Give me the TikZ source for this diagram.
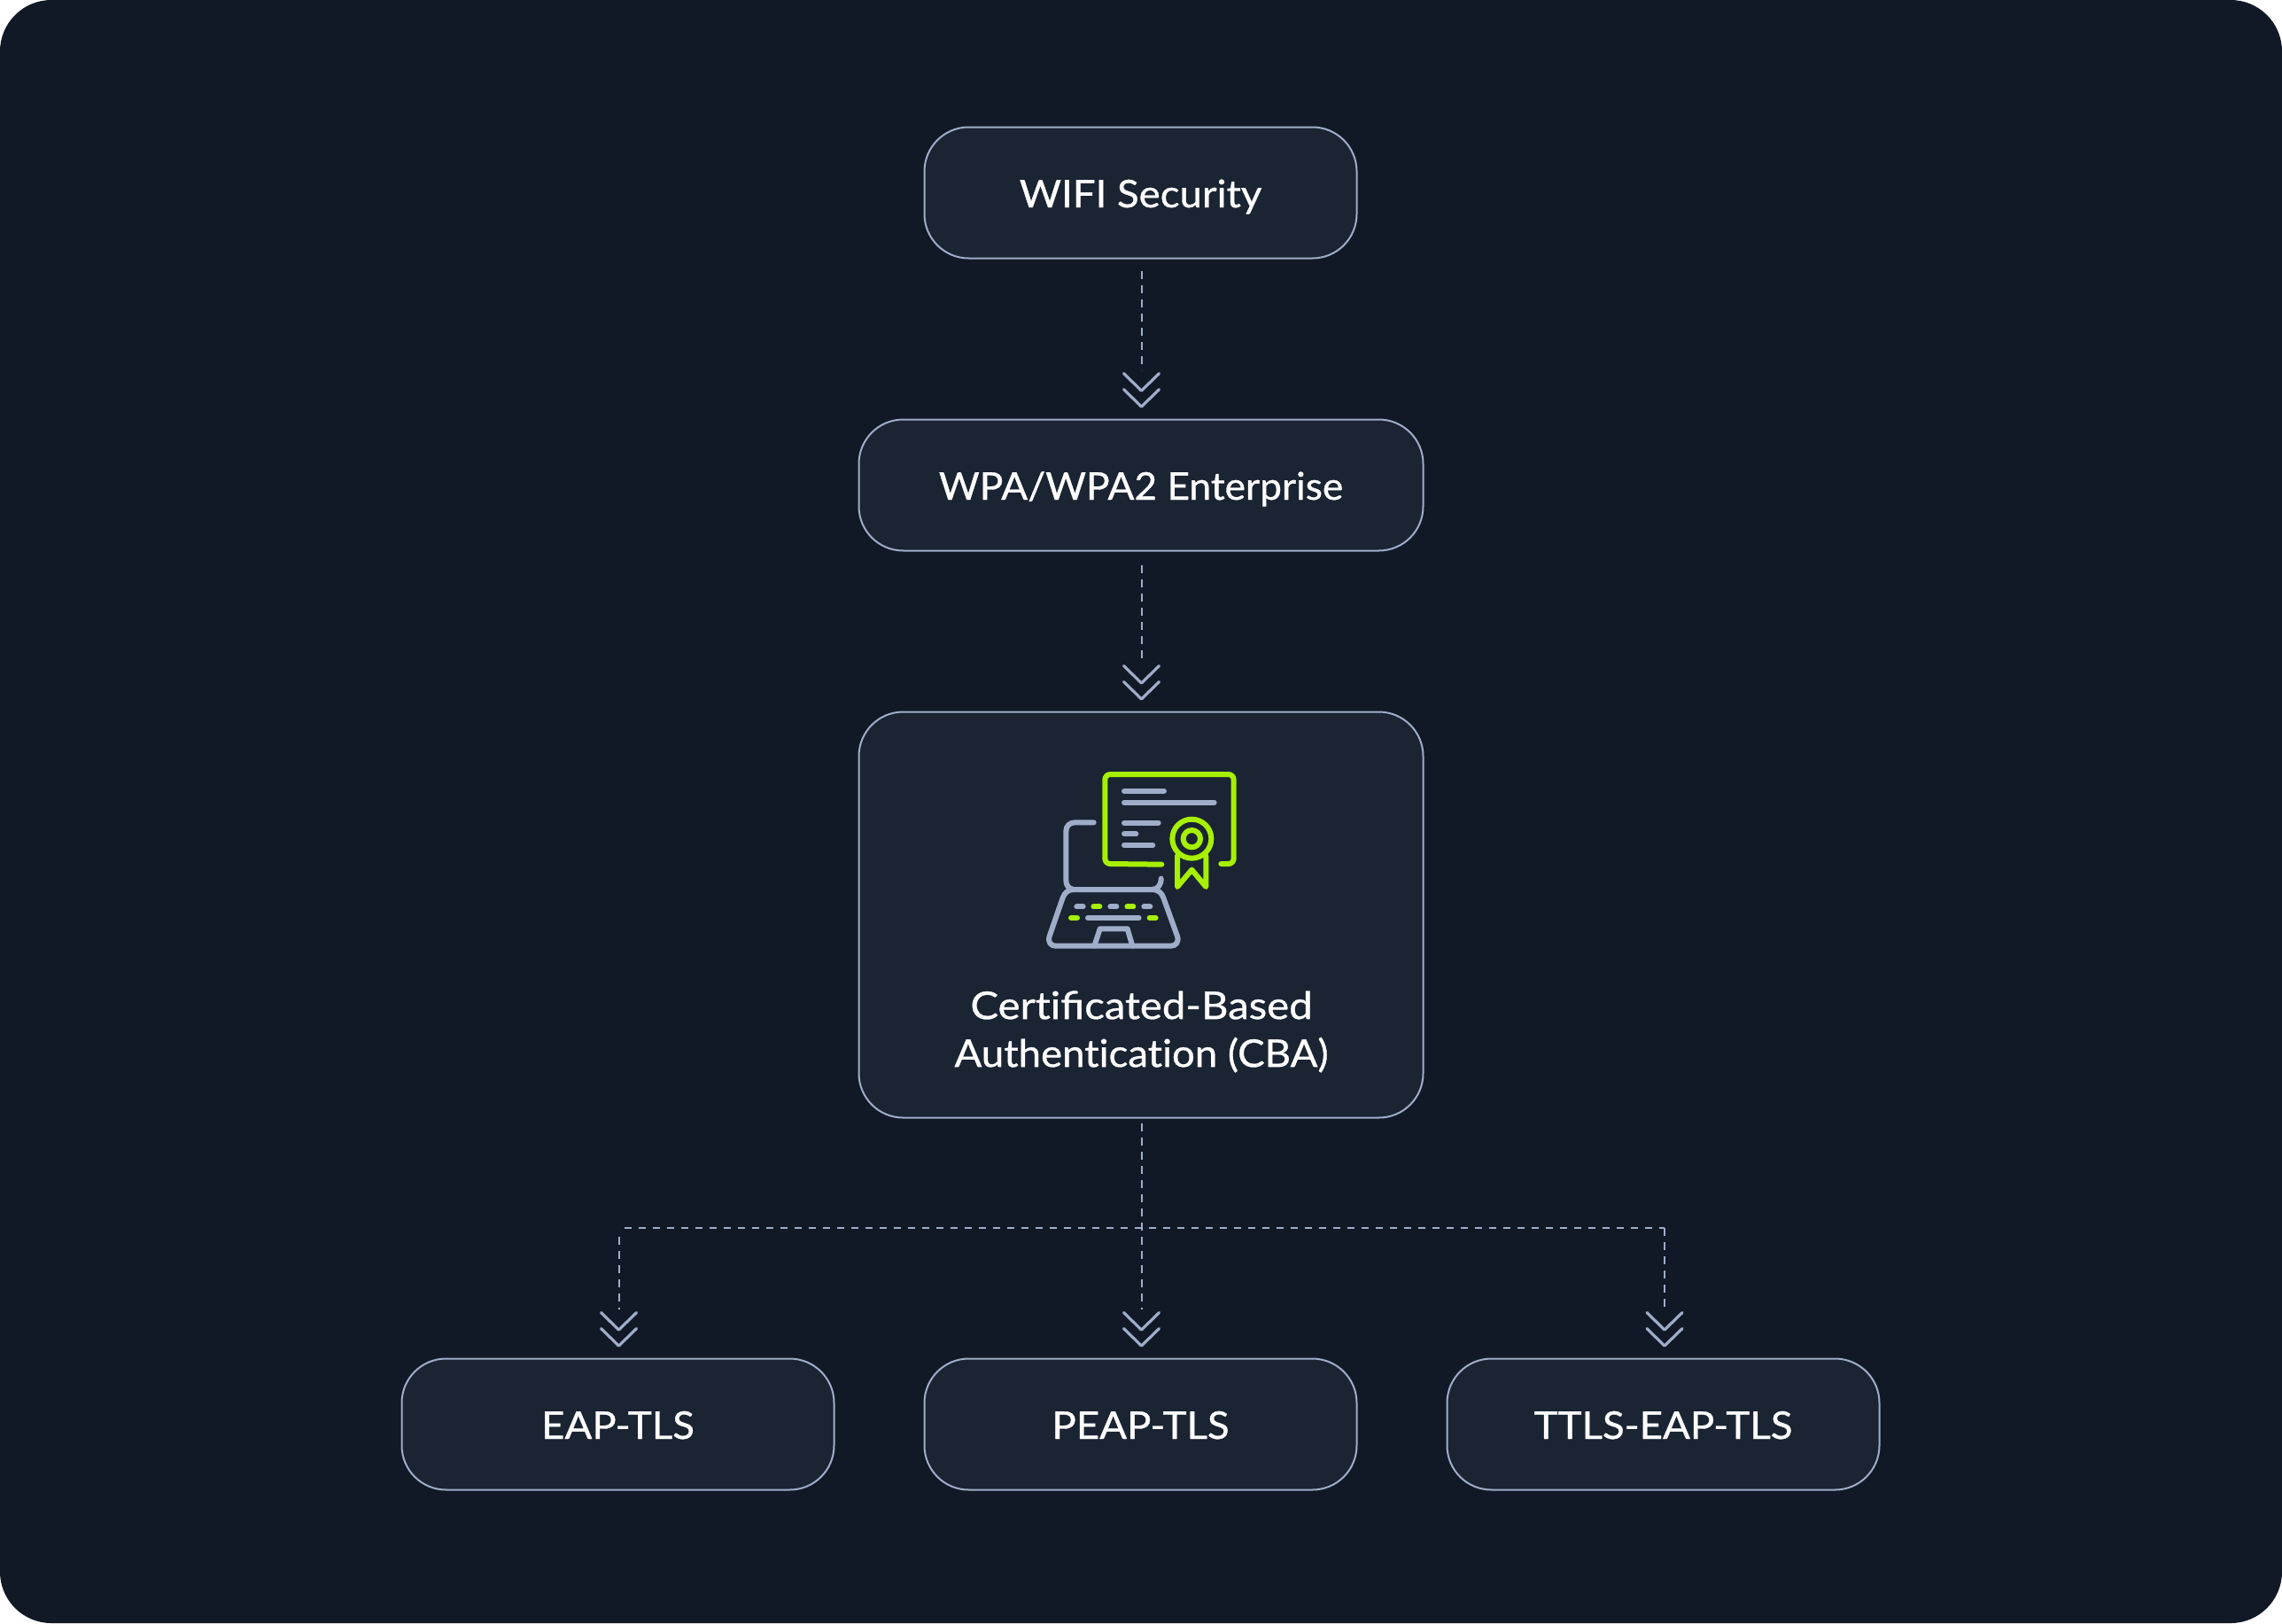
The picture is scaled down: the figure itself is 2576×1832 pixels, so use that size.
\documentclass[tikz,border=0pt]{standalone}
\usepackage{fontspec}
\setmainfont[Ligatures=TeX]{Lato}
\usetikzlibrary{calc}
\definecolor{bgc}{HTML}{111927}
\definecolor{boxc}{HTML}{1A2432}
\definecolor{linec}{HTML}{9FADC9}
\definecolor{greenc}{HTML}{A6F000}
\tikzset{
  x=0.5pt,y=-0.5pt,
  labelfont/.style={font=\fontsize{21.5pt}{27pt}\selectfont\addfontfeatures{FakeBold=0.8,FakeStretch=1.06}},
  card/.style={draw=linec,fill=boxc,line width=1pt,rounded corners=25pt,inner sep=0pt,minimum height=74pt,
    text=white,labelfont,text height=16.5pt,text depth=0pt,align=center},
  dashv/.style={draw=linec,line width=1pt,dash pattern=on 4.8pt off 3.2pt},
  dashh/.style={draw=linec,line width=1pt,dash pattern=on 4pt off 4pt},
  chev/.style={draw=linec,line width=1.6pt,line cap=round,line join=round},
  gl/.style={draw=greenc,line width=3pt,line cap=round,line join=round},
  gy/.style={draw=linec,line width=3pt,line cap=round,line join=round},
}
\newcommand{\chevs}[2][1]{%
  \draw[chev] ($(#2.north)+(#1-20,-51)$) -- ++(20,19.5) -- ++(20,-19.5);
  \draw[chev] ($(#2.north)+(#1-20,-33)$) -- ++(20,19.5) -- ++(20,-19.5);
}
\begin{document}
\begin{tikzpicture}
\useasboundingbox (0,0) rectangle (2576,1832);
\fill[white] (0,0) rectangle (2576,1832);
\fill[bgc,rounded corners=29pt] (0,0) rectangle (2576,1832);

\node[card,minimum width=244pt] (wifi) at (1287.5,217.5) {WIFI Security};
\node[card,minimum width=318.5pt] (wpa) at (1288,547.5) {\addfontfeatures{FakeBold=0.8,FakeStretch=1.03}WPA/WPA2 Enterprise};
\node[card,minimum width=318.5pt,minimum height=229pt] (cba) at (1288,1032.5) {};
\node[card,minimum width=244pt] (eap) at (697.5,1607.5) {EAP-TLS};
\node[card,minimum width=244pt] (peap) at (1287.5,1607.5) {PEAP-TLS};
\node[card,minimum width=244pt] (ttls) at (1877.5,1607.5) {TTLS-EAP-TLS};
\node[draw=none,fill=none,text=white,labelfont,align=center,inner sep=0pt] (cbatext) at (1288.5,1164.5) {{\addfontfeatures{FakeBold=0.8,FakeStretch=1.1}Cert\kern0pt ificated-Based}\\Authent\kern0pt icat\kern0pt ion (CBA)};

% connectors
\draw[dashv] ($(wifi.south)+(1,13)$) -- ($(wpa.north)+(0.5,-55)$);
\draw[dashv] ($(wpa.south)+(0.5,15)$) -- ($(cba.north)+(0.5,-55)$);
\draw[dashv] ($(cba.south)+(0.5,5)$) -- ($(peap.north)+(1,-55)$);
\coordinate (hl) at ($(eap.north)+(7,-147)$);
\coordinate (hr) at ($(ttls.north)+(1.5,-147)$);
\draw[dashh] (hl) -- (hr);
\draw[dashv] ($(eap.north)+(1,-137)$) -- ($(eap.north)+(1,-55)$);
\draw[dashv] ($(ttls.north)+(1.5,-147)$) -- ($(ttls.north)+(1.5,-55)$);
\chevs[0.5]{wpa}\chevs[0.5]{cba}\chevs{eap}\chevs{peap}\chevs[1.5]{ttls}

% icon
\begin{scope}[shift={(1150,840)},x=0.16667pt,y=-0.16667pt]
  \draw[gl] (484,407) -- (310,405) arc[start angle=270,end angle=180,x radius=18,y radius=-18] -- (292,120) arc[start angle=180,end angle=90,x radius=18,y radius=-18] -- (710,102) arc[start angle=90,end angle=0,x radius=18,y radius=-18] -- (728,387) arc[start angle=0,end angle=-90,x radius=18,y radius=-18] -- (685,405);
  \draw[gy] (357,159) -- (492,159);
  \draw[gy] (357,197) -- (662,197);
  \draw[gy] (357,266) -- (473,266);
  \draw[gy] (357,304) -- (397,304);
  \draw[gy] (357,342) -- (454,342);
  \draw[gl] (537,378) -- (537,483) -- (586,425) -- (634,483) -- (634,378);
  \draw[gl] (586,320) circle[radius=66];
  \draw[gl] (586,320) circle[radius=29];
  \draw[gy] (254,265) -- (190,265) .. controls (172,265) and (160,277) .. (160,295) -- (160,460) .. controls (160,478) and (168,488) .. (185,492) -- (450,492) .. controls (470,492) and (482,478) .. (482,455);
  \draw[gy] (185,492) .. controls (168,492) and (155,503) .. (149,520) -- (104,650) .. controls (98,670) and (108,683) .. (125,683) -- (515,683) .. controls (532,683) and (543,670) .. (537,650) -- (490,520) .. controls (484,503) and (472,492) .. (450,492);
  \draw[gy] (256,683) -- (275,625) -- (368,625) -- (385,683);
  \draw[gy] (196,550) -- (218,550);
  \draw[gl] (253,550) -- (274,550);
  \draw[gy] (310,550) -- (331,550);
  \draw[gl] (367,550) -- (388,550);
  \draw[gy] (424,550) -- (445,550);
  \draw[gl] (177,588) -- (198,588);
  \draw[gy] (234,588) -- (407,588);
  \draw[gl] (443,588) -- (464,588);
\end{scope}
\end{tikzpicture}
\end{document}
